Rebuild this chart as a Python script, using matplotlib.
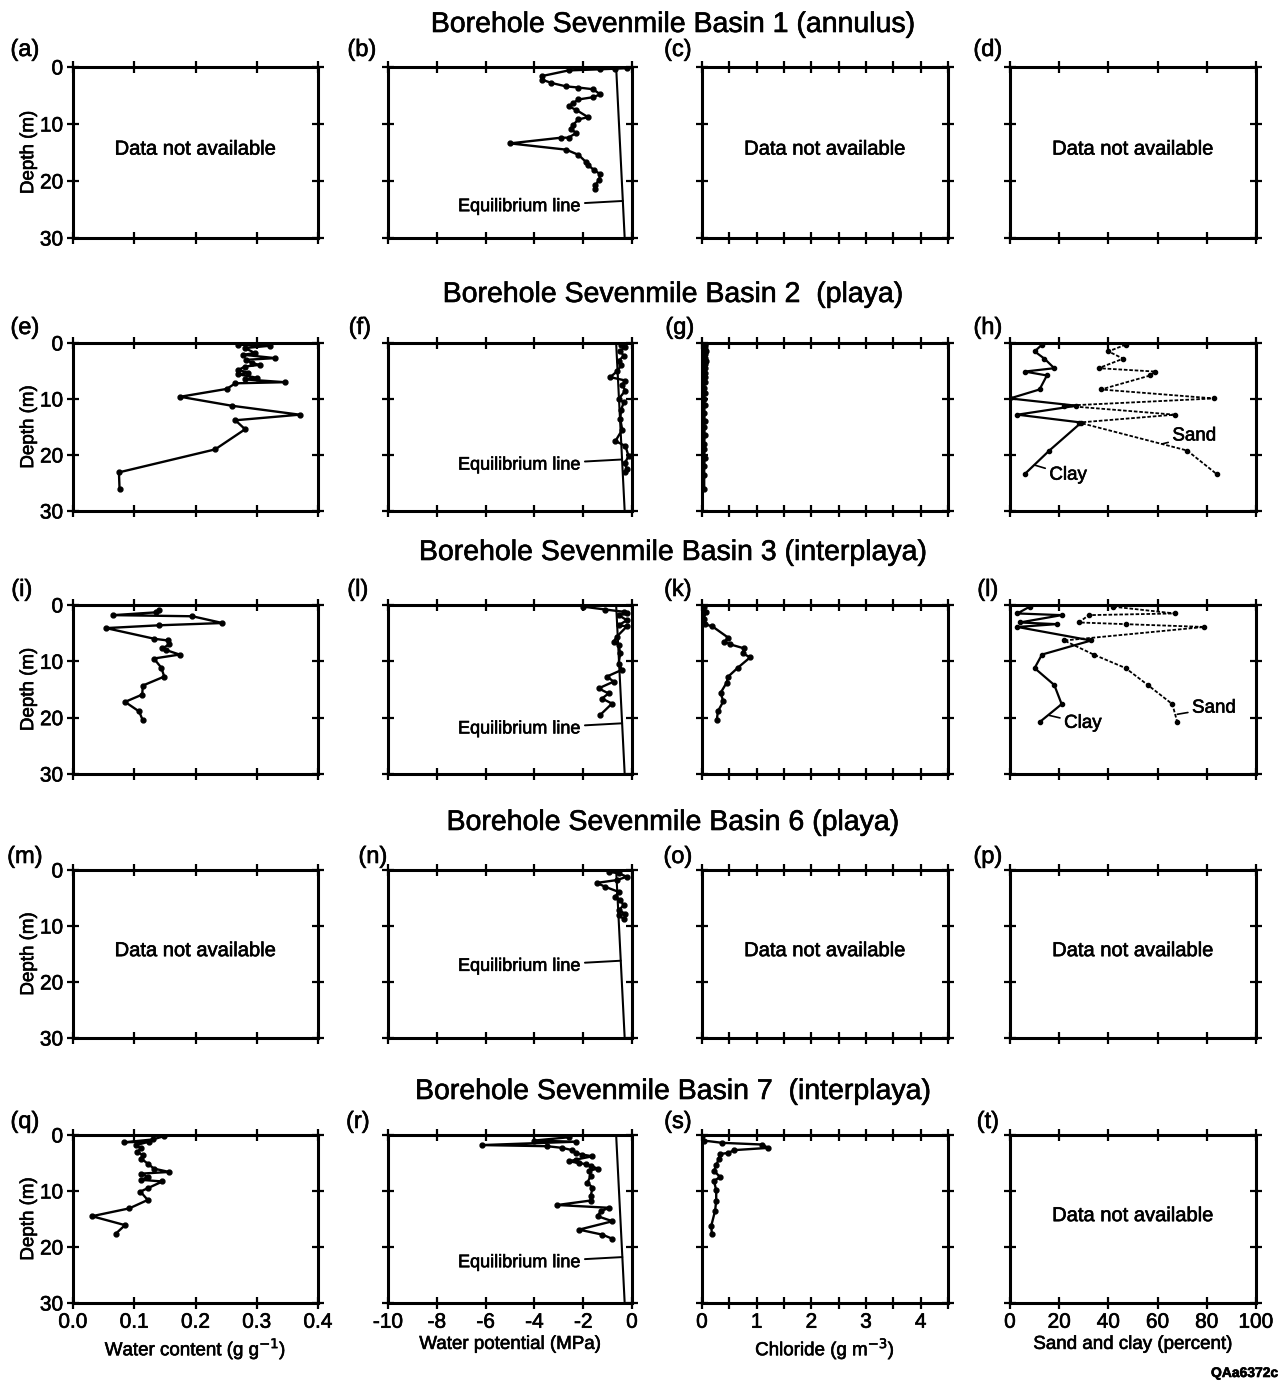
import matplotlib.pyplot as plt
import matplotlib.patheffects as pe
from matplotlib.text import Text

plt.rcParams['font.family'] = ['Liberation Sans', 'DejaVu Sans']

W, H = 1287, 1384

titles = ['Borehole Sevenmile Basin 1 (annulus)',
          'Borehole Sevenmile Basin 2  (playa)',
          'Borehole Sevenmile Basin 3 (interplaya)',
          'Borehole Sevenmile Basin 6 (playa)',
          'Borehole Sevenmile Basin 7  (interplaya)']
letters = [['(a)', '(b)', '(c)', '(d)'],
           ['(e)', '(f)', '(g)', '(h)'],
           ['(i)', '(l)', '(k)', '(l)'],
           ['(m)', '(n)', '(o)', '(p)'],
           ['(q)', '(r)', '(s)', '(t)']]
xlabels = ['Water content (g g$^{-1}$)', 'Water potential (MPa)',
           'Chloride (g m$^{-3}$)', 'Sand and clay (percent)']
xticks = [[0.0, 0.1, 0.2, 0.3, 0.4],
          [-10, -8, -6, -4, -2, 0],
          [0, 0.5, 1, 1.5, 2, 2.5, 3, 3.5, 4, 4.5],
          [0, 20, 40, 60, 80, 100]]
xticklabels = [['0.0', '0.1', '0.2', '0.3', '0.4'],
               ['-10', '-8', '-6', '-4', '-2', '0'],
               ['0', '', '1', '', '2', '', '3', '', '4', ''],
               ['0', '20', '40', '60', '80', '100']]
xlims = [(0, 0.4), (-10, 0), (0, 4.5), (0, 100)]
yticks = [0, 10, 20, 30]

# equilibrium line (water potential vs depth)
eq_depth = [0, 30]
eq_psi = [-0.65, -0.3]

# Basin 1
b_depth = [0.2, 0.3, 0.4, 0.6, 1.6, 2.2, 2.8, 3.4, 3.6, 3.9, 4.8, 5.3, 5.7, 6.3, 6.9,
           7.5, 8.8, 9.2, 10.1, 10.8, 11.6, 12.4, 12.4, 13.4, 14.5, 15.4, 16.6, 17.2,
           18.1, 18.8, 19.8, 20.7, 21.4]
b_psi = [-0.2, -0.7, -1.3, -2.6, -3.7, -3.7, -3.3, -2.7, -2.2, -1.6, -1.3, -1.6, -2.2,
         -2.4, -2.6, -2.3, -1.8, -2.2, -2.4, -2.5, -2.3, -2.6, -2.9, -5.0, -2.7, -2.2,
         -1.9, -1.8, -1.55, -1.3, -1.35, -1.5, -1.5]

# Basin 2
e_depth = [0.3, 0.5, 0.9, 1.8, 2.1, 2.7, 3.0, 3.6, 3.9, 4.2, 4.8, 5.3, 5.6, 6.2, 6.5,
           7.0, 7.2, 8.2, 9.6, 11.2, 12.8, 13.8, 15.4, 19.0, 23.1, 26.0]
e_wc = [0.270, 0.321, 0.281, 0.297, 0.278, 0.330, 0.283, 0.292, 0.305, 0.281, 0.270,
        0.286, 0.270, 0.300, 0.281, 0.346, 0.265, 0.251, 0.175, 0.259, 0.370, 0.265,
        0.281, 0.232, 0.075, 0.076]
f_depth = [0.3, 0.8, 1.4, 2.3, 3.2, 4.0, 5.0, 6.1, 6.7, 7.5, 8.5, 10.0, 10.6, 12.0,
           13.6, 15.5, 17.5, 18.4, 20.2, 21.5, 22.5, 23.1]
f_psi = [-0.45, -0.3, -0.48, -0.34, -0.55, -0.45, -0.6, -0.89, -0.27, -0.4, -0.27, -0.55,
         -0.34, -0.45, -0.48, -0.4, -0.68, -0.27, -0.14, -0.3, -0.2, -0.27]
g_depth = [0.2, 0.6, 1.0, 1.5, 2.0, 2.6, 3.2, 3.8, 4.5, 5.3, 6.0, 7.0, 8.0, 9.0, 10.0,
           11.0, 12.5, 14.0, 15.0, 16.5, 18.0, 19.0, 20.5, 22.0, 23.5, 26.0]
g_cl = [0.05, 0.06, 0.05, 0.07, 0.06, 0.05, 0.07, 0.06, 0.05, 0.06, 0.05, 0.05, 0.04,
        0.05, 0.04, 0.05, 0.04, 0.05, 0.04, 0.05, 0.04, 0.04, 0.05, 0.04, 0.04, 0.04]
h_depth = [0.3, 1.5, 2.8, 4.5, 5.1, 5.8, 8.3, 9.9, 11.2, 12.8, 14.2, 19.2, 23.4]
h_sand = [47, 40, 46, 36, 59, 57, 37, 83, 22, 67, 28, 72, 84]
h_clay = [13, 10, 14, 18, 6, 15, 12, 0, 27, 3, 29, 16, 6]

# Basin 3
i_depth = [0.8, 1.3, 1.8, 2.0, 3.2, 3.6, 4.1, 6.0, 6.3, 7.0, 7.7, 8.0, 8.8, 9.5, 11.1,
           12.7, 14.3, 15.9, 17.2, 18.9, 20.5]
i_wc = [0.140, 0.136, 0.066, 0.195, 0.244, 0.141, 0.054, 0.133, 0.155, 0.157, 0.146,
        0.152, 0.174, 0.132, 0.144, 0.149, 0.114, 0.113, 0.085, 0.108, 0.114]
j_depth = [0.3, 0.8, 1.2, 1.5, 1.8, 2.7, 3.6, 3.8, 5.6, 6.5, 7.1, 8.6, 10.4, 11.5, 12.7,
           13.6, 14.8, 15.7, 16.6, 17.5, 19.5]
j_psi = [-1.99, -1.1, -0.34, -0.21, -0.55, -0.21, -0.55, -0.21, -0.62, -0.75, -0.55,
         -0.48, -0.55, -0.41, -1.03, -0.75, -1.37, -0.96, -1.23, -0.82, -1.3]
k_depth = [0.4, 1.3, 2.5, 3.4, 3.8, 5.8, 6.5, 7.0, 7.7, 8.6, 9.3, 11.1, 12.7, 13.8,
           15.6, 17.1, 18.9, 20.5]
k_cl = [0.03, 0.07, 0.03, 0.05, 0.19, 0.48, 0.41, 0.52, 0.77, 0.75, 0.88, 0.66, 0.48,
        0.45, 0.34, 0.39, 0.29, 0.27]
l_depth = [0.3, 1.5, 1.8, 3.1, 3.4, 3.9, 6.3, 8.8, 11.2, 14.2, 17.6, 20.8]
l_sand = [42, 67, 32, 28, 47, 79, 22, 34, 47, 56, 66, 68]
l_clay = [8, 3, 21, 4, 19, 3, 33, 13, 10, 18, 21, 12]

# Basin 6
n_depth = [0.3, 0.6, 1.2, 1.8, 2.3, 3.0, 3.9, 4.8, 5.4, 6.3, 7.2, 7.8, 8.1, 8.7]
n_psi = [-0.96, -0.55, -0.21, -0.62, -1.44, -1.1, -0.55, -0.69, -0.48, -0.34, -0.55,
         -0.27, -0.55, -0.34]

# Basin 7
q_depth = [0.2, 0.8, 1.3, 1.2, 1.8, 2.4, 3.0, 3.6, 4.2, 5.1, 6.0, 6.6, 6.9, 7.5, 8.0,
           8.3, 9.5, 10.1, 11.6, 13.1, 14.5, 16.1, 17.6]
q_wc = [0.149, 0.130, 0.084, 0.124, 0.103, 0.111, 0.105, 0.114, 0.111, 0.122, 0.132,
        0.157, 0.111, 0.122, 0.111, 0.146, 0.122, 0.110, 0.122, 0.092, 0.031, 0.085, 0.070]
r_depth = [0.4, 1.0, 1.2, 1.8, 2.0, 2.3, 2.7, 3.2, 3.5, 3.8, 4.4, 4.7, 5.0, 5.2, 5.5,
           6.0, 6.4, 7.3, 8.5, 9.4, 10.9, 11.7, 12.5, 13.0, 13.6, 14.5, 15.4, 16.9,
           17.8, 18.5]
r_psi = [-2.58, -4.03, -2.31, -6.15, -3.47, -2.86, -2.45, -2.31, -2.03, -1.62, -2.31,
         -2.58, -2.17, -1.9, -1.69, -1.41, -1.76, -1.69, -1.83, -1.62, -1.69, -1.69,
         -3.06, -0.93, -1.28, -1.41, -0.8, -2.17, -1.21, -0.82]
s_depth = [0.2, 1.0, 1.4, 1.7, 2.3, 2.7, 3.2, 3.4, 4.2, 5.4, 6.4, 7.5, 8.2, 9.9, 11.7,
           13.5, 16.2, 17.7]
s_cl = [0.0, 0.04, 0.37, 1.10, 1.21, 0.59, 0.48, 0.33, 0.31, 0.26, 0.22, 0.33, 0.22,
        0.26, 0.26, 0.24, 0.17, 0.18]

# which profile goes in which panel: (row, col) -> list of (x, depth)
profiles = {
    (0, 1): [(b_psi, b_depth)],
    (1, 0): [(e_wc, e_depth)], (1, 1): [(f_psi, f_depth)], (1, 2): [(g_cl, g_depth)],
    (2, 0): [(i_wc, i_depth)], (2, 1): [(j_psi, j_depth)], (2, 2): [(k_cl, k_depth)],
    (3, 1): [(n_psi, n_depth)],
    (4, 0): [(q_wc, q_depth)], (4, 1): [(r_psi, r_depth)], (4, 2): [(s_cl, s_depth)],
}
texture = {(1, 3): (h_depth, h_sand, h_clay), (2, 3): (l_depth, l_sand, l_clay)}
no_data = [(0, 0), (0, 2), (0, 3), (3, 0), (3, 2), (3, 3), (4, 3)]
eq_label_depth = {0: 24.5, 1: 21.8, 2: 22.0, 3: 17.2, 4: 22.8}

# layout in pixels
col_x = [(73, 318), (388, 632), (702, 948), (1010, 1256)]
row_y = [(67, 238), (343, 511), (605, 774), (870, 1038), (1135, 1303)]
title_y = [25, 295, 553, 823, 1092]
letter_x = [[25, 362, 678, 988], [25, 360, 680, 988], [22, 358, 678, 988],
            [25, 373, 678, 988], [25, 358, 678, 988]]
letter_y = [50, 328, 590, 857, 1122]

fig = plt.figure(figsize=(W / 100, H / 100), dpi=100)

for r in range(5):
    fig.text(673 / W, 1 - title_y[r] / H, titles[r], ha='center', va='center', fontsize=20.5)
    for c in range(4):
        x1, x2 = col_x[c]
        yt, yb = row_y[r]
        ax = fig.add_axes([x1 / W, 1 - yb / H, (x2 - x1) / W, (yb - yt) / H])
        ax.set_xlim(*xlims[c])
        ax.set_ylim(30, 0)
        ax.set_xticks(xticks[c])
        ax.set_yticks(yticks)
        for sp in ax.spines.values():
            sp.set_linewidth(2.2)
        ax.tick_params(direction='inout', length=8, width=1.6, top=True, right=True,
                       labelsize=15, pad=3)
        if r == 4:
            ax.set_xticklabels(xticklabels[c])
            ax.set_xlabel(xlabels[c], fontsize=13.5, labelpad=3)
        else:
            ax.set_xticklabels([])
        if c == 0:
            ax.set_yticklabels([str(t) for t in yticks])
            ax.set_ylabel('Depth (m)', fontsize=13.5, labelpad=2)
        else:
            ax.set_yticklabels([])
        fig.text(letter_x[r][c] / W, 1 - letter_y[r] / H, letters[r][c],
                 ha='center', va='center', fontsize=17)

        if c == 1 and (r, c) not in no_data:
            ax.plot(eq_psi, eq_depth, color='black', lw=1.5)
            d = eq_label_depth[r]
            xe = eq_psi[0] + (eq_psi[1] - eq_psi[0]) * (d - 1.0) / 30
            ax.annotate('Equilibrium line', xy=(xe, d - 1.0), xytext=(-2.1, d),
                        ha='right', va='center', fontsize=13,
                        arrowprops=dict(arrowstyle='-', lw=1.4, color='black',
                                        shrinkA=1, shrinkB=0))

        if (r, c) in profiles:
            for xs, ds in profiles[(r, c)]:
                ax.plot(xs, ds, color='black', lw=1.7, marker='o', ms=3.5)

        if (r, c) in texture:
            ds, sand, clay = texture[(r, c)]
            ax.plot(sand, ds, color='black', lw=1.3, ls=(0, (2, 1)), marker='o', ms=3)
            ax.plot(clay, ds, color='black', lw=1.6, marker='o', ms=3)

        if (r, c) in no_data:
            ax.text(0.5, 0.52, 'Data not available', transform=ax.transAxes,
                    ha='center', va='center', fontsize=14.5)

# Sand / Clay labels
ax_h = fig.axes[7]
ax_h.annotate('Sand', xy=(62, 18.0), xytext=(66, 16.6), ha='left', va='center', fontsize=13.5,
              arrowprops=dict(arrowstyle='-', lw=1.2, color='black', shrinkA=1, shrinkB=0))
ax_h.annotate('Clay', xy=(10, 21.8), xytext=(16, 23.6), ha='left', va='center', fontsize=13.5,
              arrowprops=dict(arrowstyle='-', lw=1.2, color='black', shrinkA=1, shrinkB=0))
ax_l = fig.axes[11]
ax_l.annotate('Sand', xy=(68, 19.4), xytext=(74, 18.3), ha='left', va='center', fontsize=13.5,
              arrowprops=dict(arrowstyle='-', lw=1.2, color='black', shrinkA=1, shrinkB=0))
ax_l.annotate('Clay', xy=(16, 19.6), xytext=(22, 21.0), ha='left', va='center', fontsize=13.5,
              arrowprops=dict(arrowstyle='-', lw=1.2, color='black', shrinkA=1, shrinkB=0))

fig.text(1278 / W, 1 - 1373 / H, 'QAa6372c', ha='right', va='center', fontsize=10,
         fontweight='bold')

# the scanned lettering is a little heavier than the regular face
for t in fig.findobj(Text):
    t.set_path_effects([pe.withStroke(linewidth=0.45, foreground='black')])

fig.savefig('out.png', dpi=100)
